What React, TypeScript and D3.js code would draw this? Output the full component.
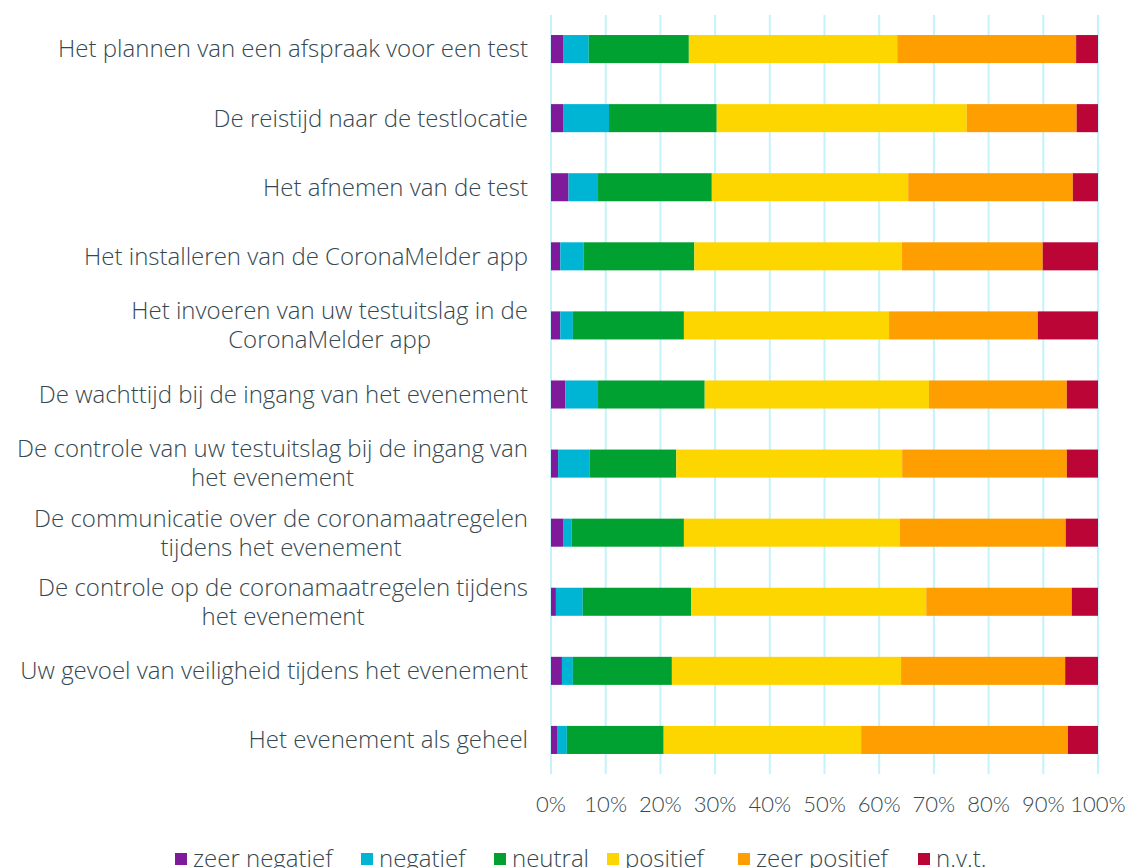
import React, { useEffect, useRef } from "react";
import * as d3 from "d3";

const categories = [
  "Het plannen van een afspraak voor een test",
  "De reistijd naar de testlocatie",
  "Het afnemen van de test",
  "Het installeren van de CoronaMelder app",
  "Het invoeren van uw testuitslag in de\nCoronaMelder app",
  "De wachttijd bij de ingang van het evenement",
  "De controle van uw testuitslag bij de ingang van\nhet evenement",
  "De communicatie over de coronamaatregelen\ntijdens het evenement",
  "De controle op de coronamaatregelen tijdens\nhet evenement",
  "Uw gevoel van veiligheid tijdens het evenement",
  "Het evenement als geheel",
];

const seriesNames = ["zeer negatief", "negatief", "neutral", "positief", "zeer positief", "n.v.t."];
const seriesColors = ["#7f1a9a", "#00b4d4", "#00a130", "#fdd600", "#fe9e00", "#bb0537"];

const zeerNegatief = [2.2, 2.2, 3.2, 1.7, 1.7, 2.6, 1.3, 2.2, 0.9, 2.0, 1.1];
const negatief = [4.7, 8.4, 5.4, 4.3, 2.3, 6.0, 5.8, 1.6, 4.9, 2.0, 1.8];
const neutral = [18.3, 19.7, 20.8, 20.2, 20.3, 19.5, 15.8, 20.5, 19.8, 18.1, 17.7];
const positief = [38.1, 45.7, 35.9, 37.9, 37.5, 41.0, 41.3, 39.5, 43.0, 41.9, 36.1];
const zeerPositief = [32.7, 20.1, 30.1, 25.8, 27.2, 25.2, 30.1, 30.3, 26.6, 30.0, 37.8];
const nvt = [4.0, 3.9, 4.6, 10.1, 11.0, 5.7, 5.7, 5.9, 4.8, 6.0, 5.5];

const xTicks = [0, 10, 20, 30, 40, 50, 60, 70, 80, 90, 100];

const W = 1129;
const H = 868;
const FONT = "'Open Sans', Lato, sans-serif";
const TICKFONT = "Lato, 'Open Sans', sans-serif";
const TEXT = "#34484f";

export default function App() {
  const ref = useRef<SVGSVGElement | null>(null);

  useEffect(() => {
    const svg = d3.select(ref.current);
    svg.selectAll("*").remove();

    const allSeries = [zeerNegatief, negatief, neutral, positief, zeerPositief, nvt];
    const rows = categories.map((c, i) => {
      const r: any = { cat: c };
      seriesNames.forEach((s, k) => (r[s] = allSeries[k][i]));
      return r;
    });
    const stacked = d3.stack().keys(seriesNames).offset(d3.stackOffsetExpand)(rows);

    const x = d3.scaleLinear().domain([0, 1]).range([551, 1098]);
    const xPct = d3.scaleLinear().domain([0, 100]).range([551, 1098]);
    const y = d3
      .scaleBand()
      .domain(categories)
      .range([15, 774])
      .paddingInner(0.594)
      .paddingOuter(0.29);

    // gridlines
    svg
      .append("g")
      .selectAll("line")
      .data(xTicks)
      .join("line")
      .attr("x1", (d) => xPct(d))
      .attr("x2", (d) => xPct(d))
      .attr("y1", 15)
      .attr("y2", 774)
      .attr("stroke", "#c4f3fb")
      .attr("stroke-width", 2);

    // bars
    svg
      .append("g")
      .selectAll("g")
      .data(stacked)
      .join("g")
      .attr("fill", (_d, i) => seriesColors[i])
      .selectAll("rect")
      .data((d) => d)
      .join("rect")
      .attr("x", (d) => x(d[0]))
      .attr("width", (d) => Math.max(0, x(d[1]) - x(d[0])))
      .attr("y", (d: any) => y(d.data.cat)!)
      .attr("height", y.bandwidth());

    // category labels
    const labelG = svg.append("g").attr("font-family", FONT).attr("font-weight", 300).attr("font-size", 24).attr("fill", TEXT);
    const lineH = 29;
    categories.forEach((c) => {
      const lines = c.split("\n");
      const cy = y(c)! + y.bandwidth() / 2;
      const t = labelG.append("text").attr("text-anchor", "middle");
      lines.forEach((ln, i) => {
        t.append("tspan")
          .attr("x", 0)
          .attr("y", cy + (i - (lines.length - 1) / 2) * lineH)
          .attr("dy", "0.35em")
          .text(ln);
      });
      const tspans = t.selectAll<SVGTSpanElement, unknown>("tspan").nodes();
      const maxW = d3.max(tspans, (n) => n.getComputedTextLength()) || 0;
      const cx = 528 - maxW / 2;
      t.selectAll("tspan").attr("x", cx);
    });

    // x tick labels
    svg
      .append("g")
      .selectAll("text")
      .data(xTicks)
      .join("text")
      .attr("x", (d) => xPct(d))
      .attr("y", 812)
      .attr("text-anchor", "middle")
      .attr("font-family", TICKFONT)
      .attr("font-weight", 300)
      .attr("font-size", 22)
      .attr("fill", TEXT)
      .text((d) => d + "%");

    // legend
    const legendX = [175, 361, 494, 607, 738, 918];
    const lg = svg.append("g");
    seriesNames.forEach((s, i) => {
      lg.append("rect")
        .attr("x", legendX[i])
        .attr("y", 853)
        .attr("width", 12)
        .attr("height", 12)
        .attr("fill", seriesColors[i]);
      lg.append("text")
        .attr("x", legendX[i] + 18)
        .attr("y", 867)
        .attr("font-family", FONT)
        .attr("font-weight", 300)
        .attr("font-size", 24)
        .attr("fill", TEXT)
        .text(s);
    });
  }, []);

  return (
    <svg
      ref={ref}
      width={W}
      height={H}
      style={{ position: "absolute", left: 0, top: 0, background: "#fff" }}
    />
  );
}
